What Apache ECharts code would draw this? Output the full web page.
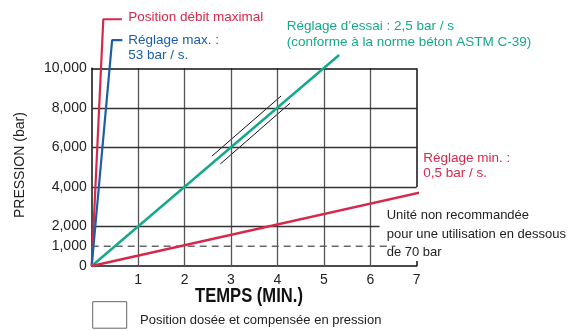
<!DOCTYPE html>
<html>
<head>
<meta charset="utf-8">
<script src="https://cdn.jsdelivr.net/npm/echarts@6/dist/echarts.min.js"></script>
<style>
  html, body { margin: 0; padding: 0; background: #fff; }
  #chart { width: 577px; height: 331px; }
</style>
</head>
<body>
<div id="chart"></div>
<script>
// Tick labels
const timeTicks = [1, 2, 3, 4, 5, 6, 7];
const pressureTicks = [0, 1000, 2000, 4000, 6000, 8000, 10000];

// Pressure ramps (time in min, pressure in bar)
const maxFlowPos = [[0, 0], [0.25, 12480], [0.65, 12480]];
const maxSetting = [[0, 0], [0.44, 11430], [0.66, 11430]];
const testSetting = [[0, 0], [5.33, 10670]];
const minSetting = [[0, 0], [7.42, 3900]];

// Break marks drawn alongside the test ramp
const breakUpper = [[2.59, 5560], [4.08, 8600]];
const breakLower = [[2.77, 5160], [4.27, 8230]];

// 70 bar threshold guide
const thresholdLine = [[0, 1000], [6.54, 1000]];

// Grid segments: [x1, y1, x2, y2]
const gridVertical = [[1, 0, 1, 10000], [2, 0, 2, 10000], [3, 0, 3, 10000],
                      [4, 0, 4, 10000], [5, 0, 5, 10000], [6, 0, 6, 10000]];
const gridHorizontal = [[0, 2000, 6.2, 2000], [0, 4000, 7, 4000],
                        [0, 6000, 7, 6000], [0, 8000, 7, 8000]];
const frameSegments = [[0, 10000, 7, 10000], [7, 4000, 7, 10000], [7, 0, 7, 250]];

const RED = '#d6284b';
const BLUE = '#1d5ea8';
const GREEN = '#17a88b';
const FONT = 'Liberation Sans, Arial, sans-serif';

const toSeg = (arr) => arr.map(s => [{ coord: [s[0], s[1]] }, { coord: [s[2], s[3]] }]);

const chart = echarts.init(document.getElementById('chart'), null, { renderer: 'canvas' });

function rampSeries(name, data, color, width) {
  return {
    name, type: 'line', data, clip: false, silent: true,
    symbol: 'none', animation: false,
    lineStyle: { color, width }, z: 5
  };
}

function segmentSeries(name, segs, color, width) {
  return {
    name, type: 'line', data: [], silent: true, symbol: 'none',
    markLine: {
      silent: true, symbol: 'none', animation: false, label: { show: false },
      emphasis: { disabled: true },
      data: toSeg(segs),
      lineStyle: { color, width, type: 'solid' }
    },
    z: 1
  };
}

function note(x, y, text, color, size) {
  return {
    type: 'text', x, y,
    style: { text, fontSize: size, fill: color, fontFamily: FONT, verticalAlign: 'middle' }
  };
}

chart.setOption({
  animation: false,
  grid: { left: 91.7, right: 160.3, top: 68.3, bottom: 65, containLabel: false },
  xAxis: {
    type: 'value', min: 0, max: 7, interval: 1,
    axisLine: { show: true, onZero: false, lineStyle: { color: '#111', width: 1.5 } },
    axisTick: { show: false },
    splitLine: { show: false },
    axisLabel: {
      margin: 7, fontSize: 14, color: '#222', fontFamily: FONT,
      formatter: v => (timeTicks.includes(v) ? String(v) : '')
    }
  },
  yAxis: {
    type: 'value', min: 0, max: 10000, interval: 1000,
    axisLine: { show: true, onZero: false, lineStyle: { color: '#111', width: 1.5 } },
    axisTick: { show: false },
    splitLine: { show: false },
    axisLabel: {
      margin: 5, fontSize: 14, color: '#222', fontFamily: FONT,
      formatter: v => (pressureTicks.includes(v) ? v.toLocaleString('en-US') : '')
    }
  },
  graphic: [
    { type: 'text', x: 20, y: 218, rotation: Math.PI / 2,
      style: { text: 'PRESSION (bar)', fontSize: 14, fill: '#222', fontFamily: FONT,
               verticalAlign: 'middle' } },
    { type: 'text', x: 249, y: 296, scaleX: 0.79,
      style: { text: 'TEMPS (MIN.)', fontSize: 21, fontWeight: 'bold', fill: '#111',
               fontFamily: FONT, align: 'center', verticalAlign: 'middle' } },
    note(128.3, 17.5, 'Position débit maximal', RED, 13.5),
    note(128.3, 40, 'Réglage max. :', BLUE, 13.5),
    note(128.3, 55, '53 bar / s.', BLUE, 13.5),
    note(286.7, 26, 'Réglage d’essai : 2,5 bar / s', GREEN, 13.5),
    note(286.7, 42, '(conforme à la norme béton ASTM C-39)', GREEN, 13.5),
    note(423.3, 158.3, 'Réglage min. :', RED, 13.5),
    note(423.3, 173.3, '0,5 bar / s.', RED, 13.5),
    note(386.7, 215, 'Unité non recommandée', '#222', 13),
    note(386.7, 234, 'pour une utilisation en dessous', '#222', 13),
    note(386.7, 252.7, 'de 70 bar', '#222', 13),
    { type: 'rect', shape: { x: 92.7, y: 301.7, width: 34, height: 26.5 },
      style: { fill: '#fff', stroke: '#666', lineWidth: 1 } },
    note(140, 320, 'Position dosée et compensée en pression', '#222', 13)
  ],
  series: [
    segmentSeries('gridV', gridVertical, '#555', 1.3),
    segmentSeries('gridH', gridHorizontal, '#333', 1.3),
    segmentSeries('frame', frameSegments, '#111', 1.5),
    {
      name: 'seuil', type: 'line', data: thresholdLine, silent: true, symbol: 'none',
      lineStyle: { color: '#666', width: 1.3, type: [7, 5] }, z: 2
    },
    {
      name: 'breakUpper', type: 'line', data: breakUpper, silent: true, symbol: 'none',
      lineStyle: { color: '#111', width: 1 }, z: 3
    },
    {
      name: 'breakLower', type: 'line', data: breakLower, silent: true, symbol: 'none',
      lineStyle: { color: '#111', width: 1 }, z: 3
    },
    rampSeries('Position débit maximal', maxFlowPos, RED, 2.2),
    rampSeries('Réglage max.', maxSetting, BLUE, 2.2),
    rampSeries('Réglage d’essai', testSetting, GREEN, 2.5),
    rampSeries('Réglage min.', minSetting, RED, 2.5)
  ]
});
</script>
</body>
</html>
